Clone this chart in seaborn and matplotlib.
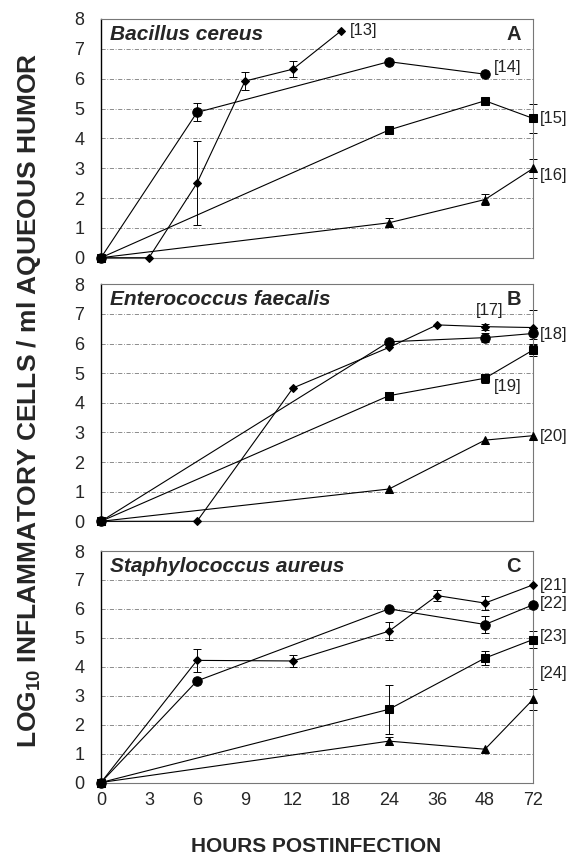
import matplotlib
matplotlib.use("Agg")
import matplotlib.pyplot as plt
import seaborn as sns
import numpy as np

sns.set_theme(style="white")
plt.rcParams['font.family'] = ['Liberation Sans', 'DejaVu Sans']
plt.rcParams['mathtext.default'] = 'regular'

# ---- data ----
HOURS = [0, 3, 6, 9, 12, 18, 24, 36, 48, 72]
Y_TICKS = [0, 1, 2, 3, 4, 5, 6, 7, 8]
PANEL_TITLES = ["Bacillus cereus", "Enterococcus faecalis", "Staphylococcus aureus"]
PANEL_LETTERS = ["A", "B", "C"]

# Panel A
a_dia_h = [0, 3, 6, 9, 12, 18]
a_dia_v = [0, 0, 2.5, 5.92, 6.32, 7.6]
a_dia_e = [0, 0, 1.4, 0.3, 0.27, 0]
a_cir_h = [0, 6, 24, 48]
a_cir_v = [0, 4.87, 6.57, 6.15]
a_cir_e = [0, 0.3, 0, 0]
a_sq_h = [0, 24, 48, 72]
a_sq_v = [0, 4.28, 5.26, 4.67]
a_sq_e = [0, 0, 0, 0.48]
a_tri_h = [0, 24, 48, 72]
a_tri_v = [0, 1.17, 1.95, 2.99]
a_tri_e = [0, 0.15, 0.2, 0.33]

# Panel B
b_dia_h = [0, 6, 12, 24, 36, 48, 72]
b_dia_v = [0, 0, 4.5, 5.87, 6.63, 6.57, 6.54]
b_dia_e = [0, 0, 0, 0, 0, 0.1, 0.58]
b_cir_h = [0, 24, 48, 72]
b_cir_v = [0, 6.06, 6.2, 6.34]
b_cir_e = [0, 0, 0.15, 0.2]
b_sq_h = [0, 24, 48, 72]
b_sq_v = [0, 4.24, 4.83, 5.78]
b_sq_e = [0, 0.12, 0.15, 0.2]
b_tri_h = [0, 24, 48, 72]
b_tri_v = [0, 1.09, 2.74, 2.89]
b_tri_e = [0, 0, 0, 0]

# Panel C
c_dia_h = [0, 6, 12, 24, 36, 48, 72]
c_dia_v = [0, 4.22, 4.2, 5.23, 6.46, 6.2, 6.83]
c_dia_e = [0, 0.4, 0.2, 0.3, 0.2, 0.25, 0]
c_cir_h = [0, 6, 24, 48, 72]
c_cir_v = [0, 3.51, 6.0, 5.46, 6.14]
c_cir_e = [0, 0, 0, 0.3, 0]
c_sq_h = [0, 24, 48, 72]
c_sq_v = [0, 2.53, 4.3, 4.94]
c_sq_e = [0, 0.84, 0.25, 0.3]
c_tri_h = [0, 24, 48, 72]
c_tri_v = [0, 1.43, 1.15, 2.87]
c_tri_e = [0, 0.15, 0, 0.35]

# series reference labels: (text, hour anchor, value)
a_labels = [("[13]", 18, 7.6), ("[14]", 48, 6.36), ("[15]", 72, 4.68), ("[16]", 72, 2.77)]
b_labels = [("[17]", 48, 7.12), ("[18]", 72, 6.3), ("[19]", 48, 4.55), ("[20]", 72, 2.86)]
c_labels = [("[21]", 72, 6.8), ("[22]", 72, 6.19), ("[23]", 72, 5.04), ("[24]", 72, 3.77)]

panels = [
    [(a_dia_h, a_dia_v, a_dia_e, 'D', 4.2), (a_cir_h, a_cir_v, a_cir_e, 'o', 6.8),
     (a_tri_h, a_tri_v, a_tri_e, '^', 6.2), (a_sq_h, a_sq_v, a_sq_e, 's', 5.8)],
    [(b_dia_h, b_dia_v, b_dia_e, 'D', 4.2), (b_cir_h, b_cir_v, b_cir_e, 'o', 6.8),
     (b_tri_h, b_tri_v, b_tri_e, '^', 6.2), (b_sq_h, b_sq_v, b_sq_e, 's', 5.8)],
    [(c_dia_h, c_dia_v, c_dia_e, 'D', 4.2), (c_cir_h, c_cir_v, c_cir_e, 'o', 6.8),
     (c_tri_h, c_tri_v, c_tri_e, '^', 6.2), (c_sq_h, c_sq_v, c_sq_e, 's', 5.8)],
]
panel_labels = [a_labels, b_labels, c_labels]

# ---- layout ----
W, H = 570, 855
fig = plt.figure(figsize=(W / 100, H / 100), dpi=100)
axes_px = [(19, 257.7), (284.3, 521.3), (551, 782.5)]
left_px, right_px = 101, 533

def idx(h):
    return HOURS.index(h)

for p, (top, bot) in enumerate(axes_px):
    ax = fig.add_axes([left_px / W, 1 - bot / H, (right_px - left_px) / W, (bot - top) / H])
    ax.set_xlim(0, len(HOURS) - 1)
    ax.set_ylim(0, 8)
    for yv in Y_TICKS[1:-1]:
        ax.axhline(yv, color='#7a7a7a', lw=0.6, ls=(0, (5, 2, 1, 2)), zorder=0)
    for hs, vs, es, mk, ms in panels[p]:
        xs = [idx(h) for h in hs]
        sns.lineplot(x=xs, y=vs, ax=ax, color='black', linewidth=0.8, marker=mk,
                     markersize=ms, markeredgecolor='black', markerfacecolor='black',
                     errorbar=None, sort=False, clip_on=False, zorder=3)
        ex = [x for x, e in zip(xs, es) if e > 0]
        ey = [v for v, e in zip(vs, es) if e > 0]
        ee = [e for e in es if e > 0]
        if ex:
            ax.errorbar(ex, ey, yerr=ee, fmt='none', ecolor='black', elinewidth=0.7,
                        capsize=3, capthick=0.7, clip_on=False, zorder=2)
    for txt, h, v in panel_labels[p]:
        if txt == "[17]":
            xo = -0.2
        elif h == 72:
            xo = 0.15
        else:
            xo = 0.18
        ax.text(idx(h) + xo, v, txt, fontsize=12, ha='left', va='center',
                color='#222222', clip_on=False)
    ax.text(0.021, 0.935, PANEL_TITLES[p], transform=ax.transAxes, fontsize=15,
            fontweight='bold', fontstyle='italic', ha='left', va='center')
    ax.text(0.972, 0.935, PANEL_LETTERS[p], transform=ax.transAxes, fontsize=14.5,
            fontweight='bold', ha='right', va='center')
    ax.set_yticks(Y_TICKS)
    ax.set_yticklabels([str(t) for t in Y_TICKS], fontsize=13)
    ax.set_xticks(range(len(HOURS)))
    if p == 2:
        ax.set_xticklabels([str(h) for h in HOURS], fontsize=13)
    else:
        ax.set_xticklabels([])
    ax.tick_params(axis='y', length=0, pad=12)
    ax.tick_params(axis='x', length=4, direction='inout', width=0.6, color='#555555', pad=5)
    for s in ['top', 'right', 'bottom']:
        ax.spines[s].set_color('#777777')
        ax.spines[s].set_linewidth(0.8)
    ax.spines['left'].set_color('black')
    ax.spines['left'].set_linewidth(1.0)
    ax.set_xlabel('')
    ax.set_ylabel('')

fig.text(316 / W, 1 - 846 / H, "HOURS POSTINFECTION", fontsize=15, fontweight='bold',
         ha='center', va='center')
fig.text(29 / W, 1 - 400 / H, "LOG$_{10}$ INFLAMMATORY CELLS / ml AQUEOUS HUMOR",
         fontsize=19, fontweight='bold', rotation=90, ha='center', va='center')

fig.savefig("out.png", dpi=100)
